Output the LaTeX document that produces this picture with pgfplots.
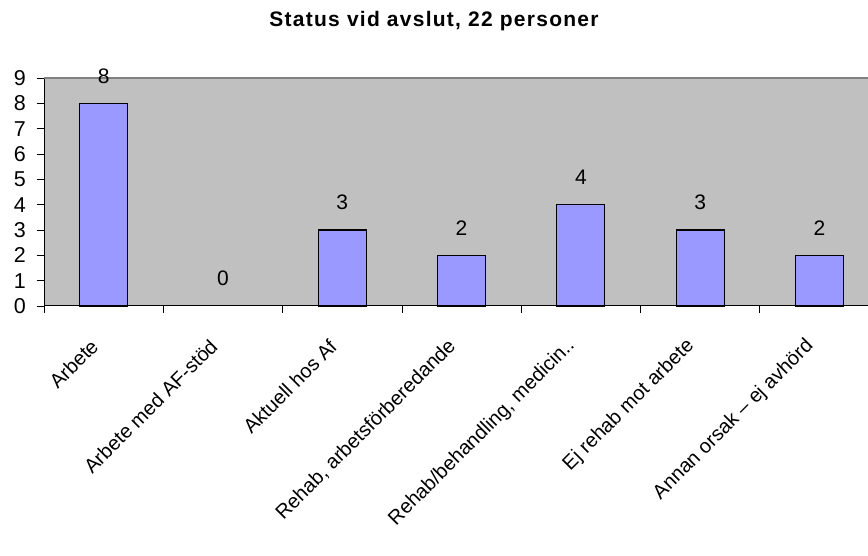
\documentclass[border=0pt]{standalone}
\usepackage{fontspec}
\setmainfont{Liberation Sans}
\newfontfamily\titlefont{Liberation Sans}[LetterSpace=6]
\usepackage{pgfplots}
\pgfplotsset{compat=1.18}
\definecolor{plotbg}{HTML}{C0C0C0}
\definecolor{barfill}{HTML}{9999FF}
\definecolor{frameline}{HTML}{808080}
\begin{document}
\begin{tikzpicture}
\useasboundingbox (0,0) rectangle (868pt,556pt);
\node[anchor=base, inner sep=0pt] at (434pt,529pt)
  {\titlefont\bfseries\fontsize{21}{21}\selectfont Status vid avslut, 22 personer};
\begin{axis}[
  at={(44pt,250pt)}, anchor=south west,
  scale only axis, width=824pt, height=228pt,
  xmin=-0.5, xmax=6.407, ymin=0, ymax=9,
  axis background/.style={fill=plotbg},
  axis x line*=bottom, axis y line*=left,
  axis line style={-, black, line width=1pt},
  clip=false,
  ybar, bar width=48pt, bar shift=0pt,
  ytick={0,...,9},
  xtick={0,...,6},
  xticklabels={Arbete, Arbete med AF-stöd, Aktuell hos Af,
    {Rehab, arbetsförberedande}, {Rehab/behandling, medicin..},
    Ej rehab mot arbete, Annan orsak – ej avhörd},
  major x tick style={draw=none},
  minor xtick={-0.5,0.5,...,6.5},
  minor x tick style={black, line width=0.8pt},
  minor tick length=7pt,
  major tick length=7pt,
  tick align=outside,
  y tick style={black, line width=0.8pt},
  /pgf/number format/assume math mode=true,
  yticklabel style={font=\fontsize{21.5}{21.5}\selectfont, inner sep=0pt, xshift=-11pt},
  xticklabel style={font=\fontsize{20}{20}\selectfont,
    inner sep=0pt, yshift=-30pt, xshift=-9pt, rotate=45, anchor=east},
  nodes near coords,
  every node near coord/.style={anchor=base, inner sep=0pt, yshift=20pt,
    font=\fontsize{21}{21}\selectfont, black},
]
% categories with a count above zero get a bar
\addplot[fill=barfill, draw=black, line width=1.1pt]
  coordinates {(0,8) (2,3) (3,2) (4,4) (5,3) (6,2)};
% the empty category shows only its value
\addplot[draw=none, fill=none]
  coordinates {(1,0)};
\draw[frameline, line width=1.2pt] (rel axis cs:0,1) -- (rel axis cs:1,1);
\end{axis}
\end{tikzpicture}
\end{document}
